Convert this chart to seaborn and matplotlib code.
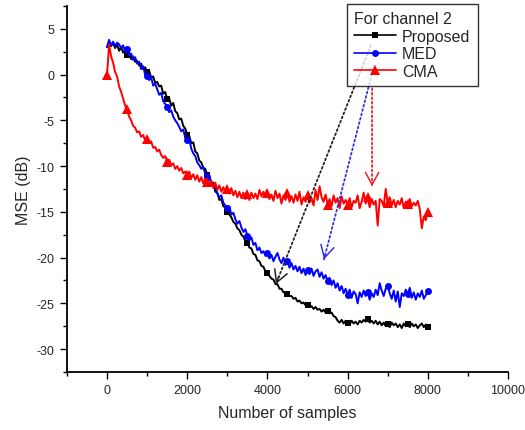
import numpy as np
import pandas as pd
import matplotlib
matplotlib.use("Agg")
import matplotlib.pyplot as plt
import seaborn as sns

# ---------------- data (step = 50 samples) ----------------
samples = list(range(0, 8001, 50))

proposed = [
    3.0, 3.6, 3.1, 3.5, 2.9, 3.3, 2.6, 3.0, 2.4, 2.7, 2.1, 2.3, 1.7, 2.0, 1.4, 1.5, 1.0, 1.2, 0.6, 0.8,
    0.3, 0.4, -0.3, -0.2, -0.9, -0.8, -1.3, -1.2, -2.1, -1.9, -2.7, -2.6, -3.4, -3.1, -4.0, -4.2, -4.9, -4.8, -5.6, -5.9,
    -6.6, -6.7, -7.5, -7.4, -8.4, -8.6, -9.4, -9.6, -10.2, -10.3, -11.0, -11.1, -12.0, -11.8, -12.8, -12.9, -13.7, -13.6, -14.4, -14.5,
    -15.0, -15.3, -15.6, -16.1, -16.3, -16.8, -17.0, -17.5, -17.7, -18.2, -18.4, -18.9, -19.0, -19.6, -19.7, -20.3, -20.4, -20.9, -21.0, -21.5,
    -21.7, -22.0, -22.3, -22.4, -22.9, -22.9, -23.4, -23.4, -23.8, -23.8, -24.0, -24.2, -24.2, -24.5, -24.4, -24.8, -24.7, -25.0, -24.9, -25.2,
    -25.2, -25.4, -25.3, -25.6, -25.4, -25.7, -25.6, -25.9, -25.7, -26.0, -25.8, -26.1, -26.0, -26.4, -26.5, -26.9, -27.1, -26.8, -27.2, -26.9,
    -27.1, -27.3, -26.9, -27.2, -27.0, -27.3, -26.9, -27.1, -26.8, -27.0, -26.7, -27.1, -26.9, -27.2, -26.9, -27.3, -27.0, -27.4, -27.1, -27.5,
    -27.3, -27.6, -27.1, -27.4, -27.2, -27.6, -27.3, -27.7, -27.2, -27.5, -27.3, -27.6, -27.2, -27.5, -27.3, -27.7, -27.4, -27.2, -27.6, -27.3, -27.6,
]

med = [
    3.0, 3.8, 3.2, 3.6, 3.1, 3.5, 3.3, 2.9, 3.2, 2.5, 2.8, 2.1, 2.3, 1.6, 1.9, 1.2, 1.4, 0.6, 0.9, 0.0,
    -0.1, -0.6, -0.3, -1.2, -1.0, -1.6, -2.2, -2.0, -2.9, -3.2, -3.5, -4.1, -3.9, -4.6, -5.0, -5.3, -5.7, -6.2, -6.0, -6.9,
    -7.2, -7.0, -8.1, -8.6, -8.9, -9.6, -9.9, -10.3, -10.1, -10.9, -11.2, -11.0, -11.9, -12.3, -12.1, -13.0, -13.4, -13.2, -14.0, -14.3,
    -14.6, -14.4, -15.3, -15.1, -15.8, -16.3, -16.0, -16.7, -17.2, -16.9, -17.6, -18.1, -17.8, -18.6, -18.4, -19.2, -18.9, -19.5, -19.3, -19.8,
    -19.5, -20.1, -19.7, -20.4, -19.9, -19.5, -20.2, -20.6, -20.0, -20.8, -20.4, -21.1, -20.6, -21.3, -20.9, -21.5, -21.0, -21.7, -21.2, -21.9,
    -21.4, -21.8, -21.2, -22.0, -21.5, -21.3, -22.1, -21.6, -22.3, -21.9, -22.6, -22.2, -23.0, -22.5, -23.3, -22.8, -23.6, -23.1, -23.9, -23.4,
    -24.1, -23.5, -24.4, -23.7, -24.0, -25.0, -23.8, -24.3, -23.6, -24.2, -23.8, -24.6, -23.9, -24.3, -23.5, -24.1, -22.8, -23.6, -24.2, -23.4,
    -23.1, -23.9, -24.5, -23.6, -24.8, -23.7, -25.4, -23.9, -24.2, -23.5, -24.0, -23.3, -24.4, -23.8, -24.6, -23.9, -24.3, -23.6, -24.5, -24.1, -23.7,
]

cma = [
    0.0, 3.3, 2.0, 1.3, 0.3, -0.2, -1.3, -1.9, -2.6, -3.4, -3.8, -4.6, -5.0, -5.6, -5.8, -6.3, -6.2, -6.8, -6.6, -7.2,
    -7.0, -7.5, -7.3, -8.0, -7.9, -8.4, -8.2, -8.8, -9.1, -8.9, -9.5, -9.3, -9.9, -9.7, -10.3, -10.0, -10.5, -10.2, -10.8, -10.6,
    -11.0, -10.6, -11.3, -10.9, -11.5, -11.0, -11.7, -11.2, -11.9, -11.4, -11.7, -12.2, -11.6, -12.4, -11.8, -12.6, -12.1, -12.8, -12.3, -12.9,
    -12.5, -13.0, -12.4, -13.2, -12.7, -13.4, -12.8, -13.5, -12.9, -13.6, -13.1, -13.7, -12.9, -13.5, -13.0, -13.6, -12.6, -13.3, -12.8, -13.4,
    -12.9, -13.6, -13.1, -13.8, -12.7, -13.5, -13.0, -14.1, -13.2, -13.7, -12.9, -13.9, -13.3, -14.0, -13.1, -13.8, -12.8, -14.2, -13.4, -13.9,
    -13.2, -14.0, -13.5, -14.3, -12.6, -13.7, -12.2, -13.4, -13.9, -13.1, -14.2, -13.6, -14.4, -13.2, -14.0, -13.5, -14.6, -13.3, -14.1, -13.7,
    -14.3, -13.5, -14.5, -13.8, -14.0, -13.2, -14.6, -13.9, -12.9, -14.1, -13.4, -14.5, -13.6, -14.2, -13.8, -16.5, -13.6, -13.8, -14.4, -12.5,
    -14.0, -13.4, -14.3, -13.7, -14.5, -13.8, -14.2, -13.5, -14.6, -13.9, -14.1, -13.6, -14.4, -14.0, -14.3, -13.8, -14.7, -16.8, -15.5, -15.9, -15.0,
]

series_names = ["Proposed", "MED", "CMA"]
legend_title = "For channel 2"
x_label = "Number of samples"
y_label = "MSE (dB)"

# ---------------- figure ----------------
sns.set_style("ticks")
plt.rcParams["font.family"] = ["Liberation Sans", "DejaVu Sans"]
plt.rcParams["axes.unicode_minus"] = False

fig = plt.figure(figsize=(5.25, 4.31), dpi=100)
ax = fig.add_axes([0.1276, 0.1346, 0.840, 0.8492])

df = pd.DataFrame({"samples": samples, "Proposed": proposed, "MED": med, "CMA": cma})

sns.lineplot(data=df, x="samples", y="Proposed", ax=ax, color="#000000", lw=1.4,
             marker="s", markersize=5.0, markevery=(10, 10), markeredgewidth=0,
             estimator=None, label=series_names[0])
sns.lineplot(data=df, x="samples", y="MED", ax=ax, color="#0000FF", lw=1.4,
             marker="o", markersize=5.0, markevery=(10, 10), markeredgewidth=0,
             estimator=None, label=series_names[1])
sns.lineplot(data=df, x="samples", y="CMA", ax=ax, color="#FF0000", lw=1.4,
             marker="^", markersize=7.0, markevery=(0, 10), markeredgewidth=0,
             estimator=None, label=series_names[2])

ax.set_xlim(-1000, 10000)
ax.set_ylim(-32.5, 7.5)
ax.set_xticks(np.arange(0, 10001, 2000))
ax.set_xticks(np.arange(-1000, 10001, 1000), minor=True)
ax.set_yticks(np.arange(-30, 6, 5))
ax.set_yticks(np.arange(-32.5, 7.6, 2.5), minor=True)
ax.tick_params(axis="both", which="major", direction="out", length=5, width=1.0,
               labelsize=9, pad=4, color="black")
ax.tick_params(axis="both", which="minor", direction="out", length=3, width=1.0, color="black")
for s in ["top", "right"]:
    ax.spines[s].set_visible(False)
for s in ["left", "bottom"]:
    ax.spines[s].set_linewidth(1.3)
    ax.spines[s].set_color("black")

ax.set_xlabel(x_label, fontsize=11.5, labelpad=6)
ax.set_ylabel(y_label, fontsize=11.5, labelpad=4)

leg = ax.legend(title=legend_title, loc="upper left", bbox_to_anchor=(0.635, 1.005),
                borderaxespad=0, frameon=True, fancybox=False, fontsize=11.5,
                title_fontsize=11.5, handlelength=2.6, handletextpad=0.4,
                labelspacing=0.15, borderpad=0.45, numpoints=1)
leg._legend_box.align = "left"
leg.get_frame().set_edgecolor("black")
leg.get_frame().set_linewidth(1.0)
for h in leg.legend_handles:
    h.set_linewidth(1.2)

# ---------------- dotted arrows from legend to curves ----------------
arrows = [
    ((6580, 3.2), (4210, -22.9), "#222222"),
    ((6660, 1.0), (5410, -20.2), "#3333DD"),
    ((6610, -1.5), (6610, -12.2), "#EE2222"),
]
for (sx, sy), (ex, ey), col in arrows:
    ax.annotate("", xy=(ex, ey), xytext=(sx, sy),
                arrowprops=dict(arrowstyle="-", linestyle=(0, (1, 1.5)), color=col,
                                lw=1.3, shrinkA=0, shrinkB=0))
    bx, by = ex + 0.03 * (sx - ex), ey + 0.03 * (sy - ey)
    ax.annotate("", xy=(ex, ey), xytext=(bx, by),
                arrowprops=dict(arrowstyle="->,head_length=0.55,head_width=0.3", color=col,
                                lw=1.1, shrinkA=0, shrinkB=0, mutation_scale=16))

fig.savefig("out.png", dpi=100)
